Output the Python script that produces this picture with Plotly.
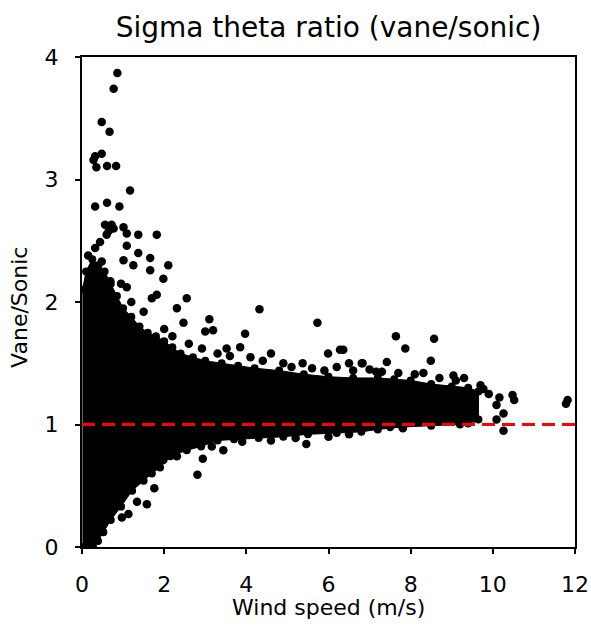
import plotly.graph_objects as go

# Dense cloud envelope: upper edge left->right, lower edge right->left
cloud_upper_x = [0.01, 0.1, 0.25, 0.4, 0.55, 0.7, 0.85, 1.0, 1.2, 1.4, 1.6, 1.8, 2.0, 2.2, 2.4, 2.7, 3.0, 3.4, 3.8, 4.2, 4.8, 5.4, 6.0, 6.6, 7.2, 7.6, 8.0, 8.5, 9.0, 9.4, 9.65]
cloud_upper_y = [2.1, 2.25, 2.35, 2.3, 2.25, 2.15, 2.05, 1.95, 1.88, 1.8, 1.75, 1.72, 1.68, 1.63, 1.58, 1.55, 1.52, 1.5, 1.48, 1.46, 1.44, 1.41, 1.39, 1.38, 1.38, 1.37, 1.36, 1.33, 1.31, 1.3, 1.27]
cloud_lower_x = [9.65, 9.2, 8.5, 7.8, 7.2, 6.8, 6.2, 5.5, 4.9, 4.3, 3.7, 3.3, 2.9, 2.55, 2.15, 1.9, 1.7, 1.5, 1.22, 0.95, 0.7, 0.52, 0.39, 0.27, 0.01]
cloud_lower_y = [1.04, 1.0, 0.99, 0.98, 0.96, 0.94, 0.93, 0.92, 0.9, 0.89, 0.88, 0.87, 0.82, 0.79, 0.74, 0.65, 0.6, 0.54, 0.46, 0.33, 0.22, 0.12, 0.05, 0.0, 0.0]

# Individual scattered points outside / on the edge of the dense cloud
wind_speed = [0.86, 0.77, 0.48, 0.67, 0.32, 0.48, 0.28, 0.35, 0.61, 0.83,
              1.17, 0.32, 0.61, 0.91, 0.56, 0.77, 1.01, 1.09, 1.37, 1.82,
              0.65, 0.72, 0.60, 0.44, 0.32, 1.09, 1.37, 1.66, 1.01, 1.25,
              2.10, 1.66, 1.98, 0.28, 0.48, 0.69, 1.09, 1.82, 1.70, 2.55, 2.31,
              4.32, 5.73, 5.99, 6.28, 6.83, 7.16, 3.10, 3.00, 3.97, 3.52, 2.92,
              4.60, 5.37, 6.20, 6.50, 2.47, 3.85, 3.19, 6.36,
              7.64, 8.57, 7.87, 7.42, 8.49, 8.31, 6.81, 9.04, 9.30, 9.77,
              10.16, 10.09, 10.48, 10.52, 10.26, 10.09, 10.26, 11.78, 11.82,
              9.53, 9.40, 7.50, 7.81, 9.70, 9.90,
              5.46, 2.81, 2.94, 3.44, 3.16, 1.76, 1.58, 1.13, 0.97, 1.34, 1.98, 2.31, 1.42,
              2.00, 2.20, 2.60, 3.30, 3.60, 4.10, 4.40, 4.90, 5.10, 5.60, 5.90, 6.60,
              7.00, 7.30, 7.70, 8.10, 8.70, 9.10, 1.50, 1.20, 0.95, 0.15,
              3.90, 4.60, 5.20, 6.00, 6.50]
ratio = [3.87, 3.74, 3.47, 3.39, 3.19, 3.21, 3.16, 3.10, 3.11, 3.11,
         2.91, 2.78, 2.81, 2.78, 2.63, 2.60, 2.61, 2.56, 2.55, 2.55,
         2.58, 2.63, 2.55, 2.49, 2.44, 2.46, 2.40, 2.36, 2.34, 2.30,
         2.30, 2.26, 2.19, 2.26, 2.33, 2.17, 2.12, 2.06, 2.03, 2.03, 1.95,
         1.94, 1.83, 1.58, 1.61, 1.50, 1.43, 1.86, 1.76, 1.74, 1.62, 1.62,
         1.58, 1.50, 1.47, 1.50, 1.83, 1.63, 1.77, 1.61,
         1.72, 1.70, 1.62, 1.51, 1.52, 1.42, 1.50, 1.40, 1.38, 1.29,
         1.22, 1.16, 1.24, 1.20, 1.09, 1.04, 0.95, 1.17, 1.20,
         1.05, 1.01, 0.98, 0.97, 1.32, 1.25,
         0.84, 0.59, 0.72, 0.79, 0.82, 0.48, 0.35, 0.27, 0.24, 0.37, 0.71, 0.74, 0.67,
         1.78, 1.72, 1.66, 1.58, 1.56, 1.55, 1.52, 1.50, 1.47, 1.46, 1.44, 1.44,
         1.45, 1.43, 1.42, 1.41, 1.38, 1.36, 1.92, 2.00, 2.15, 2.38,
         0.86, 0.87, 0.89, 0.90, 0.92]

ref_x = [0, 12]
ref_y = [1, 1]

x_ticks = [0, 2, 4, 6, 8, 10, 12]
y_ticks = [0, 1, 2, 3, 4]

FONT = "DejaVu Sans"

fig = go.Figure()
fig.add_trace(go.Scatter(
    x=cloud_upper_x + cloud_lower_x,
    y=cloud_upper_y + cloud_lower_y,
    mode="lines+markers", fill="toself", fillcolor="black",
    line=dict(color="black", width=1),
    marker=dict(color="black", size=8),
    hoverinfo="skip", showlegend=False))
fig.add_trace(go.Scatter(
    x=wind_speed, y=ratio, mode="markers",
    marker=dict(color="black", size=8.5, line=dict(width=0)),
    showlegend=False))
fig.add_trace(go.Scatter(
    x=ref_x, y=ref_y, mode="lines",
    line=dict(color="#FF0000", width=2.8, dash="13px,7px"),
    showlegend=False))

axis_common = dict(showgrid=False, zeroline=False, showline=True, linecolor="black", linewidth=2,
                   mirror=True, ticks="outside", ticklen=5, tickwidth=1.5, tickcolor="black",
                   automargin=False, ticklabelstandoff=12,
                   tickfont=dict(family=FONT, size=22, color="black"))

fig.update_layout(
    width=591, height=638,
    margin=dict(l=82, r=16, t=57, b=91, autoexpand=False),
    paper_bgcolor="white", plot_bgcolor="white",
    font=dict(family=FONT, color="black"),
    title=dict(text="Sigma theta ratio (vane/sonic)", x=0.5, xref="paper",
               y=1 - 27 / 638, yref="container", xanchor="center", yanchor="middle",
               font=dict(family=FONT, size=28, color="black")),
    xaxis=dict(range=[0, 12], tickvals=x_ticks, ticktext=[str(v) for v in x_ticks], **axis_common),
    yaxis=dict(range=[0, 4], tickvals=y_ticks, ticktext=[str(v) for v in y_ticks], **axis_common),
    annotations=[
        dict(text="Wind speed (m/s)", xref="paper", yref="paper", x=0.5, y=-(607 - 547) / 490,
             xanchor="center", yanchor="middle", showarrow=False,
             font=dict(family=FONT, size=22, color="black")),
        dict(text="Vane/Sonic", xref="paper", yref="paper", x=(20 - 82) / 493, y=0.488,
             xanchor="center", yanchor="middle", textangle=-90, showarrow=False,
             font=dict(family=FONT, size=22, color="black")),
    ],
)

fig.write_html(
    "out.html",
    config={"displayModeBar": False},
    post_script="document.body.style.margin='0';document.documentElement.style.overflow='hidden';",
)
